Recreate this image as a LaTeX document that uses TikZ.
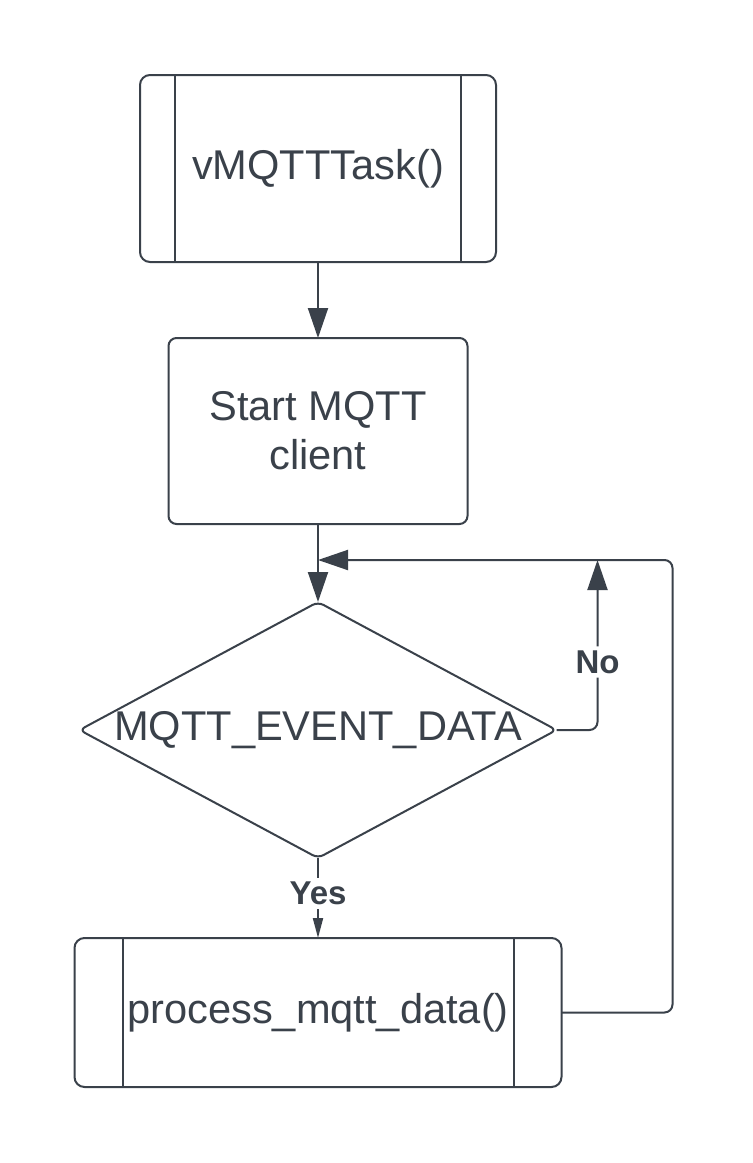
\documentclass[tikz,border=0pt]{standalone}
\usepackage{fontspec}
\setmainfont{Liberation Sans}
\usetikzlibrary{arrows.meta, shapes.geometric, positioning}
\definecolor{ink}{HTML}{3A414A}

\begin{document}
\begin{tikzpicture}[
  subroutine/.style={draw=ink, line width=1pt, rounded corners=5pt, text=ink, font=\fontsize{20.8}{24.5}\selectfont, outer sep=0pt},
  action/.style={draw=ink, line width=1pt, rounded corners=4pt, text=ink, align=center, font=\fontsize{20.8}{24.5}\selectfont, minimum width=149.5pt, minimum height=93pt, outer sep=0pt},
  decision/.style={draw=ink, line width=1pt, shape=diamond, aspect=1.86, inner xsep=-3pt, inner ysep=0pt, rounded corners=3pt, minimum width=238.5pt, minimum height=128pt, text=ink, font=\fontsize{20.8}{24}\selectfont, outer sep=0pt},
  flow/.style={draw=ink, line width=1pt, -{Triangle[length=15pt, width=10pt]}},
  answer/.style={fill=white, text=ink, font=\bfseries\fontsize{16.5}{19}\selectfont, inner sep=2pt}
  ]
  \fill[white] (0,0) rectangle (376pt,-581.5pt);
  \useasboundingbox (0,0) rectangle (376pt,-581.5pt);

  \draw node[subroutine, minimum width=178pt, minimum height=93.5pt] (t1) at (159pt,-84.25pt) {vMQTTTask()}
  node[action, below=38pt of t1] (s1) {Start MQTT\\client}
  node[decision, below=39pt of s1] (d1) {MQTT\_EVENT\_DATA}
  node[subroutine, below=40pt of d1, minimum width=243.5pt, minimum height=74.5pt] (p1) {process\_mqtt\_data()};

  \draw[ink, line width=1pt] ([xshift=17.5pt]t1.north west) -- ([xshift=17.5pt]t1.south west)
  ([xshift=-17.5pt]t1.north east) -- ([xshift=-17.5pt]t1.south east)
  ([xshift=24pt]p1.north west) -- ([xshift=24pt]p1.south west)
  ([xshift=-24pt]p1.north east) -- ([xshift=-24pt]p1.south east);

  \coordinate[above=21pt of d1.north] (j);
  \coordinate[right=20.5pt of d1.east] (n1);
  \coordinate[right=55.5pt of p1.east] (r1);

  \path[flow] (t1) -- (s1);
  \draw[ink, line width=1pt] (s1) -- (j);
  \path[flow] (j) -- (d1);
  \path[flow, -{Triangle[length=10pt, width=5pt]}] (d1) -- node[answer, pos=0.44]{Yes} (p1);
  \path[flow, rounded corners=4pt] (d1.east) -- (n1) -- node[answer, pos=0.4]{No} (n1 |- j);
  \path[flow, rounded corners=4pt] (p1.east) -- (r1) |- (j);
\end{tikzpicture}
\end{document}
